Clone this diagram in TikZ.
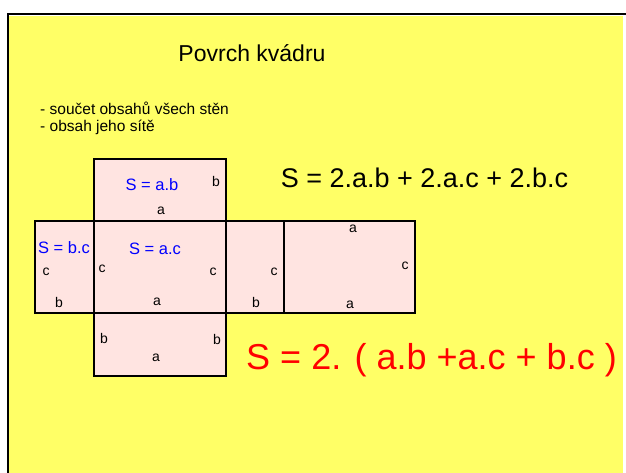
\documentclass[tikz,border=0pt]{standalone}
\usepackage{fontspec}
\setmainfont{Liberation Sans}
\usepackage{xcolor}
\usepackage{tikz}
\usetikzlibrary{positioning}

\definecolor{slide}{HTML}{FFFF66}
\definecolor{facepink}{HTML}{FFE4E1}

\begin{document}
\begin{tikzpicture}[x=1pt, y=1pt, node distance=0pt,
        face/.style={draw, line width=2pt, fill=facepink, outer sep=0pt, inner sep=0pt},
        lbl/.style={inner sep=0pt, font=\fontsize{14}{16}\selectfont},
        area/.style={inner sep=0pt, text=blue, font=\fontsize{16.5}{19}\selectfont}]
        \useasboundingbox (0,0) rectangle (626,473);
        \fill[slide] (9,0) rectangle (623,457);
        \draw[line width=2.5pt] (626,459) -- (8,459) -- (8,0);

        \node[lbl, font=\fontsize{23}{28}\selectfont] (title) at (252,420) {Povrch kvádru};
        \node[lbl, anchor=west, font=\fontsize{15.5}{18}\selectfont] (sum) at (40,365) {- součet obsahů všech stěn};
        \node[lbl, anchor=west, font=\fontsize{15.5}{18}\selectfont] (net) at (40,346) {- obsah jeho sítě};

        \node[face, minimum width=132, minimum height=92] (front) at (160,206) {};
        \node[face, minimum width=132, minimum height=62] (top) [above=of front] {};
        \node[face, minimum width=132, minimum height=63] (bottom) [below=of front] {};
        \node[face, minimum width=59, minimum height=92] (left) [left=of front] {};
        \node[face, minimum width=58, minimum height=92] (right) [right=of front] {};
        \node[face, minimum width=131, minimum height=92] (back) [right=of right] {};

        \node[area] (topS) at (152,288) {S = a.b};
        \node[lbl] (topb) at (216,291) {b};
        \node[lbl] (topa) at (161,262) {a};

        \node[area] (leftS) at (64,225) {S = b.c};
        \node[lbl] (leftc) at (46,201) {c};
        \node[lbl] (leftb) at (59,170) {b};

        \node[area] (frontS) at (155,224) {S = a.c};
        \node[lbl] (frontc1) at (102,204) {c};
        \node[lbl] (frontc2) at (213,201) {c};
        \node[lbl] (fronta) at (157,171) {a};

        \node[lbl] (rightc) at (274,201) {c};
        \node[lbl] (rightb) at (256,170) {b};

        \node[lbl] (backa1) at (353,244) {a};
        \node[lbl] (backc) at (405,207) {c};
        \node[lbl] (backa2) at (350,168) {a};

        \node[lbl] (bottomb1) at (104,134) {b};
        \node[lbl] (bottomb2) at (217,133) {b};
        \node[lbl] (bottoma) at (156,115) {a};

        \node[lbl, font=\fontsize{27}{32}\selectfont] (sum1) at (424.5,295) {S = 2.a.b + 2.a.c + 2.b.c};
        \node[lbl, text=red, font=\fontsize{36}{42}\selectfont] (sum2) at (431.5,113) {S = 2. ( a.b +a.c + b.c )};
    \end{tikzpicture}
\end{document}
